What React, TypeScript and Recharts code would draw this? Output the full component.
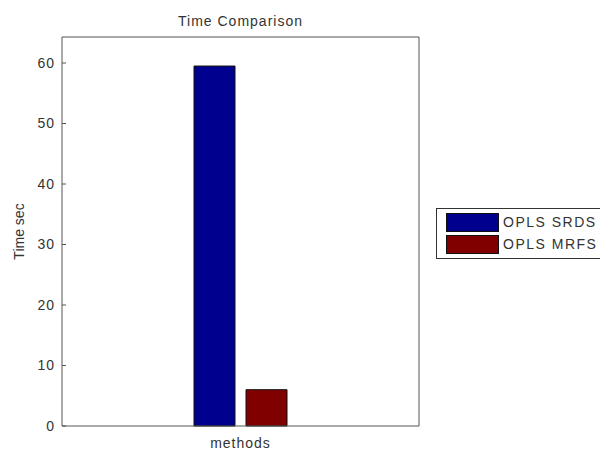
import React from 'react'
import { BarChart, Bar, XAxis, YAxis, Legend } from 'recharts'

const categories = ['']
const seriesNames = ['OPLS SRDS', 'OPLS MRFS']
const srdsTimes = [59.5]
const mrfsTimes = [6]
const yTicks = [0, 10, 20, 30, 40, 50, 60]

const data = categories.map((c, i) => ({
    name: c,
    srds: srdsTimes[i],
    mrfs: mrfsTimes[i],
}))

const font = '"Liberation Sans", Arial, sans-serif'

const BoxLegend = (props: any) => {
    const items = [...(props.payload || [])].sort(
        (a: any, b: any) => seriesNames.indexOf(a.value) - seriesNames.indexOf(b.value)
    )
    return (
        <div
            style={{
                border: '1px solid #333',
                background: '#fff',
                width: 190,
                padding: '2px 0 3px 9px',
                fontFamily: font,
                fontSize: 14,
                letterSpacing: 1.5,
                color: '#333',
            }}
        >
            {items.map((it: any) => (
                <div key={it.value} style={{ display: 'flex', alignItems: 'center', height: 22 }}>
                    <span
                        style={{
                            display: 'inline-block',
                            width: 51,
                            height: 17,
                            background: it.color,
                            border: '1px solid #111',
                            marginRight: 4,
                            flexShrink: 0,
                        }}
                    />
                    <span style={{ whiteSpace: 'nowrap' }}>{it.value}</span>
                </div>
            ))}
        </div>
    )
}

const App: React.FC = () => {
    return (
        <div
            style={{
                position: 'absolute',
                left: 0,
                top: 0,
                width: 600,
                height: 450,
                overflow: 'hidden',
                background: '#fff',
            }}
        >
            <BarChart
                width={600}
                height={450}
                data={data}
                margin={{ top: 36, right: 180, bottom: 0, left: 0 }}
                barSize={41}
                barGap={11}
            >
                <XAxis
                    dataKey='name'
                    height={24}
                    tick={false}
                    tickSize={-4}
                    stroke='#555'
                    label={{
                        value: 'methods',
                        position: 'insideBottom',
                        offset: 2,
                        fill: '#333',
                        fontSize: 14,
                        letterSpacing: 1,
                        fontFamily: font,
                    }}
                />
                <XAxis
                    xAxisId='top'
                    dataKey='name'
                    orientation='top'
                    height={1}
                    tick={false}
                    tickSize={-4}
                    stroke='#555'
                    label={{
                        value: 'Time Comparison',
                        position: 'top',
                        offset: 10,
                        fill: '#333',
                        fontSize: 14,
                        letterSpacing: 1,
                        fontFamily: font,
                    }}
                />
                <YAxis
                    width={62}
                    domain={[0, 64.3]}
                    ticks={yTicks}
                    tickSize={-4}
                    tickMargin={11}
                    stroke='#555'
                    tick={{ fill: '#333', fontSize: 14, letterSpacing: 1, fontFamily: font }}
                    label={{
                        value: 'Time sec',
                        angle: -90,
                        position: 'center',
                        dx: -12,
                        fill: '#333',
                        fontSize: 14,
                        fontFamily: font,
                    }}
                />
                <YAxis
                    yAxisId='right'
                    orientation='right'
                    width={1}
                    domain={[0, 64.3]}
                    ticks={yTicks}
                    tick={false}
                    tickSize={-4}
                    stroke='#555'
                />
                <Legend
                    layout='horizontal'
                    align='center'
                    verticalAlign='middle'
                    content={<BoxLegend />}
                    wrapperStyle={{ position: 'absolute', left: 436, top: 208, width: 200 }}
                />
                <Bar
                    name='OPLS SRDS'
                    dataKey='srds'
                    fill='#00008f'
                    stroke='#111'
                    strokeWidth={1}
                    isAnimationActive={false}
                />
                <Bar
                    name='OPLS MRFS'
                    dataKey='mrfs'
                    fill='#800000'
                    stroke='#111'
                    strokeWidth={1}
                    isAnimationActive={false}
                />
            </BarChart>
        </div>
    )
}

export default App
